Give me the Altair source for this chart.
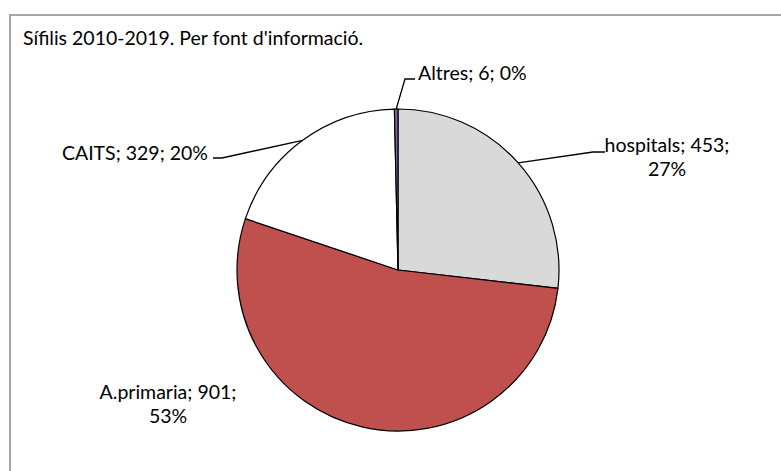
import math
import altair as alt
import pandas as pd

# ---- data ----
title_text = "Sífilis 2010-2019. Per font d'informació."
categories = ["hospitals", "A.primaria", "CAITS", "Altres"]
values = [453, 901, 329, 6]
percents = [27, 53, 20, 0]
colors = ["#d9d9d9", "#c0504d", "#ffffff", "#8064a2"]

# ---- layout (pixels) ----
W, H = 781, 471
CX, CY, R = 398, 270, 161
FONT = "Lato"
FS = 19.5
# label placement: anchor x, first baseline y, align, wrap, leader elbow, leader end
LAYOUT = {
    "hospitals": dict(x=667, y=152, align="center", wrap=True, elbow=(593, 152), end=(605, 152)),
    "A.primaria": dict(x=168, y=399, align="center", wrap=True, elbow=None, end=None),
    "CAITS": dict(x=208, y=160, align="right", wrap=False, elbow=(222, 158), end=(213, 158)),
    "Altres": dict(x=418, y=80, align="left", wrap=False, elbow=(405, 79), end=(415, 79)),
}

total = sum(values)
df = pd.DataFrame({"category": categories, "value": values, "order": range(len(values))})

# mid angles of slices (clockwise from top)
cum = 0
mids = {}
for c, v in zip(categories, values):
    mids[c] = (cum + v / 2) / total * 2 * math.pi
    cum += v

lab_rows = []
lead_rows = []
for c, v, p in zip(categories, values, percents):
    L = LAYOUT[c]
    if L["wrap"]:
        txt = [f"{c}; {v};", f"{p}%"]
    else:
        txt = [f"{c}; {v}; {p}%"]
    lab_rows.append(dict(category=c, text=txt, x=L["x"], y=L["y"], align=L["align"]))
    if L["elbow"] is not None:
        a = mids[c]
        sx = CX + R * math.sin(a)
        sy = CY - R * math.cos(a)
        pts = [(sx, sy), L["elbow"], L["end"]]
        for i, (px, py) in enumerate(pts):
            lead_rows.append(dict(category=c, i=i, x=px, y=py))

lab_df = pd.DataFrame(lab_rows)
lead_df = pd.DataFrame(lead_rows)

frame = alt.Chart(pd.DataFrame({"a": [0]})).mark_rect(
    fill="white", stroke="#a6a6a6", strokeWidth=2
).encode(x=alt.value(10), y=alt.value(15), x2=alt.value(W + 20), y2=alt.value(H + 20))

title = alt.Chart(pd.DataFrame({"t": [title_text]})).mark_text(
    align="left", baseline="alphabetic", font=FONT, fontSize=FS, color="black"
).encode(text="t:N", x=alt.value(23), y=alt.value(45))

pie = alt.Chart(df).mark_arc(radius=R, stroke="black", strokeWidth=1.2).encode(
    theta=alt.Theta("value:Q", stack=True),
    order=alt.Order("order:Q"),
    color=alt.Color("category:N", scale=alt.Scale(domain=categories, range=colors), legend=None),
    x=alt.value(CX),
    y=alt.value(CY),
)

leaders = alt.Chart(lead_df).mark_line(color="black", strokeWidth=1.3).encode(
    x=alt.X("x:Q", scale=None),
    y=alt.Y("y:Q", scale=None),
    detail="category:N",
    order="i:Q",
)

text_layers = []
for al in ["left", "center", "right"]:
    sub = lab_df[lab_df["align"] == al]
    if len(sub) == 0:
        continue
    text_layers.append(
        alt.Chart(sub).mark_text(
            align=al, baseline="alphabetic", font=FONT, fontSize=FS, color="black", lineHeight=24
        ).encode(x=alt.X("x:Q", scale=None), y=alt.Y("y:Q", scale=None), text="text")
    )

chart = alt.layer(frame, title, pie, leaders, *text_layers).properties(
    width=W, height=H, autosize="none", padding=0, background="white"
).configure_view(stroke=None)

chart.save("out.html", embed_options={"renderer": "svg", "actions": False})
